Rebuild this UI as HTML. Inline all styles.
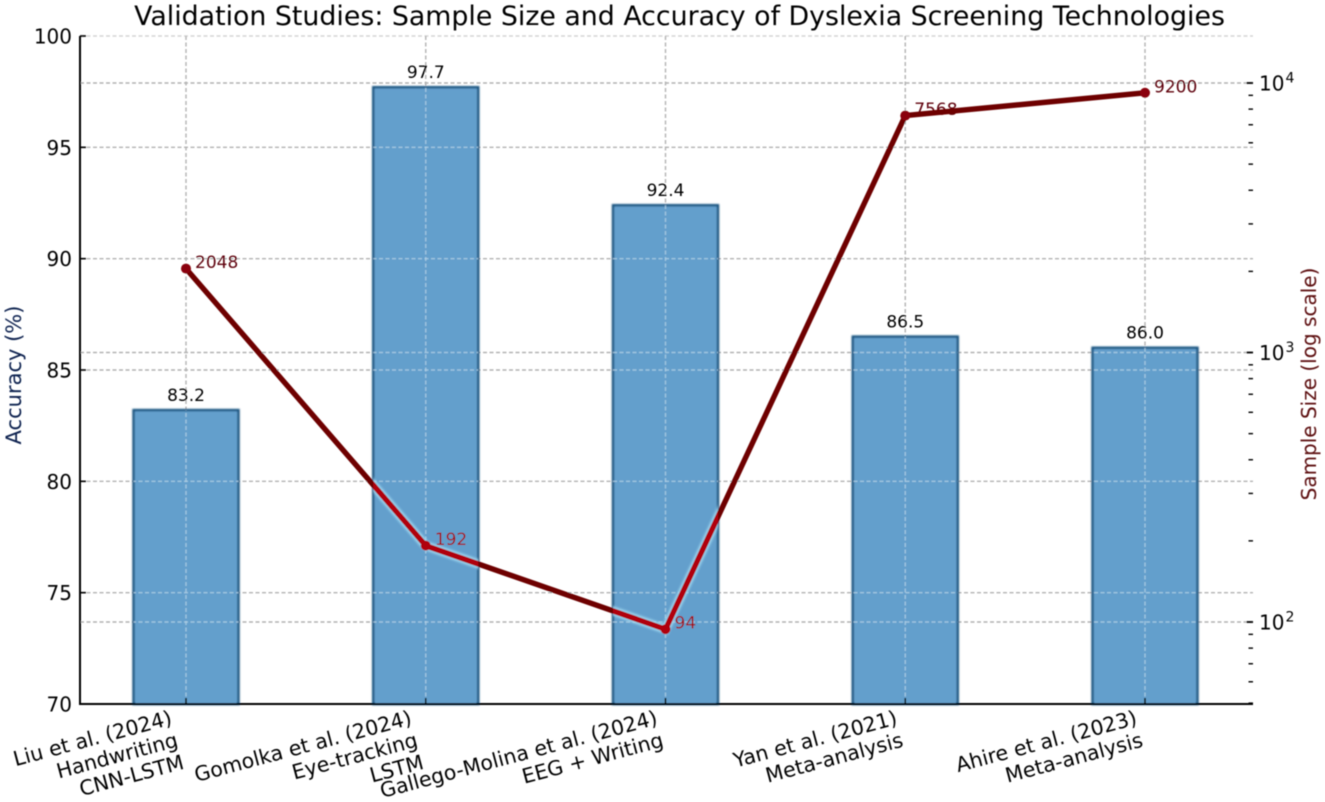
<!DOCTYPE html>
<html lang="en">
<head>
<meta charset="utf-8">
<title>Validation Studies Chart</title>
<style>
html,body{margin:0;padding:0;background:#fff;width:1325px;height:802px;overflow:hidden}
svg{display:block;font-family:"DejaVu Sans","Liberation Sans",sans-serif}
</style>
</head>
<body>
<svg id="chart" xmlns="http://www.w3.org/2000/svg" width="1325" height="802" viewBox="0 0 1325 802">
<defs>
<filter id="soft" x="-5%" y="-5%" width="110%" height="110%"><feGaussianBlur stdDeviation="0.4"/></filter>
<filter id="edgeBlur" x="-10%" y="-10%" width="120%" height="120%"><feGaussianBlur stdDeviation="0.9"/></filter>
<filter id="haloBlur" x="-10%" y="-10%" width="120%" height="120%"><feGaussianBlur stdDeviation="1.2"/></filter>
<clipPath id="barClip"></clipPath>
</defs>
<g id="root" filter="url(#soft)"></g>
</svg>
<script>
const categories = [
  ["Liu et al. (2024)", "Handwriting", "CNN-LSTM"],
  ["Gomolka et al. (2024)", "Eye-tracking", "LSTM"],
  ["Gallego-Molina et al. (2024)", "EEG + Writing"],
  ["Yan et al. (2021)", "Meta-analysis"],
  ["Ahire et al. (2023)", "Meta-analysis"]
];
const accuracy = [83.2, 97.7, 92.4, 86.5, 86.0];
const sampleSize = [2048, 192, 94, 7568, 9200];
const leftTicks = [70, 75, 80, 85, 90, 95, 100];
const rightMajorExponents = [2, 3, 4];
const rightMinorTicks = [50, 60, 70, 80, 90, 200, 300, 400, 500, 600, 700, 800, 900, 2000, 3000, 4000, 5000, 6000, 7000, 8000, 9000];

const NS = "http://www.w3.org/2000/svg";
const root = document.getElementById("root");
const plot = {left: 80, right: 1253, top: 36, bottom: 704};
function xPos(i) { return 186 + i * 239.75; }
function yLeft(v) { return plot.bottom - (v - 70) / 30 * (plot.bottom - plot.top); }
function yRight(v) { return 622 - (Math.log10(v) - 2) * 269.5; }
const barWidth = 105;

function make(tag, attrs, parent, text) {
  const el = document.createElementNS(NS, tag);
  for (const k in attrs) el.setAttribute(k, attrs[k]);
  if (text !== undefined) el.textContent = text;
  (parent || root).appendChild(el);
  return el;
}

function gridLines(parent, color, opacity) {
  leftTicks.forEach(function (t) {
    const l = make("line", {x1: plot.left, x2: plot.right, y1: yLeft(t), y2: yLeft(t), stroke: color, "stroke-width": 1.4, "stroke-dasharray": "4 2.5", opacity: t === 100 ? opacity * 0.55 : opacity}, parent);
    
    
  });
  rightMajorExponents.forEach(function (e) {
    const y = yRight(Math.pow(10, e));
    const l = make("line", {x1: plot.left, x2: plot.right, y1: y, y2: y, stroke: color, "stroke-width": 1.4, "stroke-dasharray": "4 2.5", opacity: opacity}, parent);
    
    
  });
  categories.forEach(function (c, i) {
    const l = make("line", {x1: xPos(i), x2: xPos(i), y1: plot.top, y2: plot.bottom, stroke: color, "stroke-width": 1.4, "stroke-dasharray": "4 2.5", opacity: opacity}, parent);
    
    
  });
}

/* grid under bars */
const gridGroup = make("g", {});


gridLines(gridGroup, "#b2b2b2", 1);

/* bars */
const clip = document.getElementById("barClip");
const barsGroup = make("g", {});


accuracy.forEach(function (v, i) {
  const x = xPos(i) - barWidth / 2;
  const y = yLeft(v);
  const h = plot.bottom - y;
  make("rect", {x: x, y: y, width: barWidth, height: h}, clip);
  const edge = make("rect", {x: x, y: y, width: barWidth, height: h, fill: "#629ecb", stroke: "#14527f", "stroke-width": 2.4, filter: "url(#edgeBlur)"}, barsGroup);
  
  
  const bar = make("rect", {x: x + 2, y: y + 2, width: barWidth - 4, height: h - 2, fill: "#639fcc"}, barsGroup);
  
  
  const lab = make("text", {x: xPos(i), y: y - 9, "text-anchor": "middle", "font-size": 17, fill: "#000"}, barsGroup, v.toFixed(1));
  
  
});

/* grid on top of bars */
const gridOver = make("g", {"clip-path": "url(#barClip)"});


gridLines(gridOver, "#b4d2e6", 0.75);

/* sample size value labels sit under the line */
const labelGroup = make("g", {});


sampleSize.forEach(function (v, i) {
  const onBar = yRight(v) > yLeft(accuracy[i]);
  const t = make("text", {x: xPos(i) + 9, y: yRight(v) - 0.5, "font-size": 17, fill: onBar ? "#a00000" : "#5e0008"}, labelGroup, String(v));
  
  
});

/* line series */
const pts = sampleSize.map(function (v, i) { return xPos(i) + "," + yRight(v); }).join(" ");
const halo = make("g", {"clip-path": "url(#barClip)"});


const haloLine = make("polyline", {points: pts, fill: "none", stroke: "#a6def5", "stroke-width": 8.5, filter: "url(#haloBlur)"}, halo);


const line = make("polyline", {points: pts, fill: "none", stroke: "#6e0006", "stroke-width": 5.4, "stroke-linejoin": "round"});


const lineOver = make("g", {"clip-path": "url(#barClip)"});


const redLine = make("polyline", {points: pts, fill: "none", stroke: "#b00008", "stroke-width": 5.4, "stroke-linejoin": "round"}, lineOver);


sampleSize.forEach(function (v, i) {
  const onBar = yRight(v) > yLeft(accuracy[i]);
  const m = make("circle", {cx: xPos(i), cy: yRight(v), r: 5, fill: onBar ? "#b00008" : "#8a0008"});
  
  
});

/* spines */
const spineL = make("line", {x1: plot.left, x2: plot.left, y1: plot.top, y2: plot.bottom + 1, stroke: "#000", "stroke-width": 2});


const spineB = make("line", {x1: plot.left - 1, x2: plot.right, y1: plot.bottom, y2: plot.bottom, stroke: "#000", "stroke-width": 2});



/* left axis ticks */
leftTicks.forEach(function (t) {
  const y = yLeft(t);
  const tk = make("line", {x1: plot.left, x2: plot.left + 6, y1: y, y2: y, stroke: "#000", "stroke-width": 1.6});
  
  
  const lb = make("text", {x: 72, y: y + 7.5, "text-anchor": "end", "font-size": 20, fill: "#000"}, root, String(t));
  
  
});

/* right axis ticks */
rightMajorExponents.forEach(function (e) {
  const y = yRight(Math.pow(10, e));
  const tk = make("line", {x1: plot.right - 6.5, x2: plot.right, y1: y, y2: y, stroke: "#000", "stroke-width": 1.8});
  
  
  const lb = make("text", {x: 1259, y: y + 7.5, "font-size": 20, fill: "#000"}, root, "10");
  
  
  const sup = make("tspan", {dx: 1, dy: -8, "font-size": 14}, lb, String(e));
  
  
});
rightMinorTicks.forEach(function (v) {
  const y = yRight(v);
  const tk = make("line", {x1: plot.right - 4.5, x2: plot.right, y1: y, y2: y, stroke: "#000", "stroke-width": 1.4});
  
  
});

/* x axis ticks and rotated, right-aligned labels */
const angle = 15;
const lineHeight = 23;
const sinA = Math.sin(angle * Math.PI / 180);
categories.forEach(function (lines, i) {
  const tk = make("line", {x1: xPos(i), x2: xPos(i), y1: plot.bottom, y2: plot.bottom - 6, stroke: "#000", "stroke-width": 1.6});
  
  
  const h = lines.length * lineHeight;
  const g = make("g", {transform: "translate(" + (xPos(i) + 5 - h * sinA) + "," + 724 + ") rotate(" + (-angle) + ")"});
  
  
  lines.forEach(function (s, k) {
    const t = make("text", {x: 0, y: k * lineHeight, "text-anchor": "end", "font-size": 20.5, fill: "#000"}, g, s);
    
    
  });
});

/* titles */
const title = make("text", {x: 679.5, y: 25, "text-anchor": "middle", "font-size": 26.8, fill: "#000"}, root, "Validation Studies: Sample Size and Accuracy of Dyslexia Screening Technologies");


const yl = make("text", {transform: "translate(21,375) rotate(-90)", "text-anchor": "middle", "font-size": 21, fill: "#0b2450"}, root, "Accuracy (%)");


const yr = make("text", {transform: "translate(1316,384) rotate(-90)", "text-anchor": "middle", "font-size": 20, fill: "#5c0a10"}, root, "Sample Size (log scale)");


</script>
</body>
</html>
